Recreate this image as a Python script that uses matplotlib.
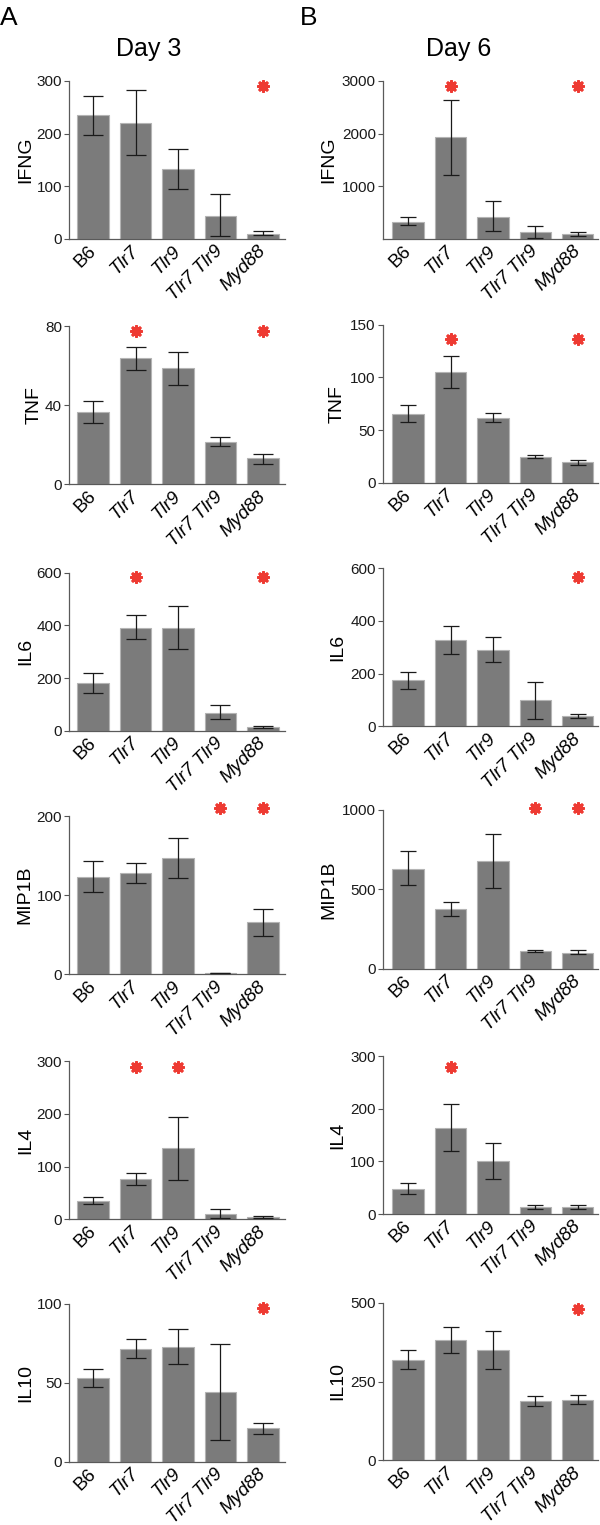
import matplotlib
matplotlib.use('Agg')
import matplotlib.pyplot as plt
import numpy as np

plt.rcParams['font.family'] = ['Liberation Sans', 'DejaVu Sans']

groups = ['B6', 'Tlr7', 'Tlr9', 'Tlr7 Tlr9', 'Myd88']
cytokines = ['IFNG', 'TNF', 'IL6', 'MIP1B', 'IL4', 'IL10']

# day 3 (panel A): bar height, lower and upper end of error bar
d3_mean = [[235, 220, 132, 44, 10],
           [36.5, 64, 58.6, 21.2, 13.1],
           [181, 391, 391, 68, 14],
           [123, 128, 146.5, 2, 66],
           [35.4, 76.6, 135, 10.8, 4.4],
           [53, 71.5, 72.8, 43.9, 21.1]]
d3_lo = [[198, 159, 94, 6, 7],
         [31, 58, 50.4, 19.2, 10.4],
         [143, 349, 310, 43, 11],
         [104, 115, 122, 2, 48],
         [28.5, 66, 75, 3, 3],
         [47.5, 65.4, 62, 13.5, 17.3]]
d3_hi = [[272, 282, 171, 85, 15],
         [42, 69.6, 67, 23.7, 15.5],
         [220, 438, 475, 96, 19],
         [143, 140, 172, 2, 83],
         [43, 88.6, 195, 19, 7],
         [58.4, 77.6, 83.8, 74.3, 24.7]]
d3_ticks = [[0, 100, 200, 300], [0, 40, 80], [0, 200, 400, 600],
            [0, 100, 200], [0, 100, 200, 300], [0, 50, 100]]
d3_star_groups = [[4], [1, 4], [1, 4], [3, 4], [1, 2], [4]]
d3_star_y = [290, 77.3, 582, 210, 290, 97]

# day 6 (panel B)
d6_mean = [[329, 1930, 424, 133, 89],
           [65.5, 105, 61.7, 24.7, 19.3],
           [175, 327, 291, 99, 39],
           [628, 374, 676, 109, 101],
           [48, 163, 100, 14, 13.3],
           [318, 381, 349, 188, 191]]
d6_lo = [[259, 1222, 152, 13, 57],
         [57.6, 90, 57.3, 23.4, 17],
         [143, 275, 246, 28, 33],
         [525, 330, 508, 103, 90],
         [38, 119, 66, 10, 10],
         [289, 339, 289, 173, 178]]
d6_hi = [[418, 2633, 728, 253, 133],
         [74, 120, 66, 26, 21.8],
         [208, 381, 339, 170, 46],
         [739, 418, 849, 120, 116],
         [59, 209, 135, 18, 17],
         [349, 422, 410, 203, 206]]
d6_ticks = [[1000, 2000, 3000], [0, 50, 100, 150], [0, 200, 400, 600],
            [0, 500, 1000], [0, 100, 200, 300], [0, 250, 500]]
d6_star_groups = [[1, 4], [1, 4], [4], [3, 4], [1], [4]]
d6_star_y = [2905, 136, 566, 1010, 280, 481]

W, H = 600, 1525
fig = plt.figure(figsize=(W / 100, H / 100), dpi=100)

# panel geometry in pixels (top, zero line) per row
d3_top = [81, 326, 572.7, 816, 1061.3, 1303.7]
d3_zero = [239, 484.3, 730.7, 974.3, 1219.3, 1461.7]
d6_top = [81, 324.7, 568.3, 810, 1056, 1302.7]
d6_zero = [239, 482.7, 726.3, 968.7, 1214, 1460.3]

bar_col = '#7b7b7b'
star_col = '#ee3a32'


def panel(x0, x1, top, zero, xlim, mean, lo, hi, ticks, ymax, star_g, star_y, cap):
    ax = fig.add_axes([x0 / W, 1 - zero / H, (x1 - x0) / W, (zero - top) / H])
    x = np.arange(len(groups))
    m = np.array(mean)
    err = [m - np.array(lo), np.array(hi) - m]
    ax.bar(x, m, width=0.74, color=bar_col, edgecolor='#b4b4b4', linewidth=0.8, zorder=2)
    ax.errorbar(x, m, yerr=err, fmt='none', ecolor='#1a1a1a', elinewidth=0.9,
                capsize=cap, capthick=0.9, zorder=3)
    ax.scatter([x[i] for i in star_g], [star_y] * len(star_g), marker=(8, 2, 0),
               s=50, linewidths=2.2, color=star_col, clip_on=False, zorder=4)
    ax.set_xlim(*xlim)
    ax.set_ylim(0, ymax)
    ax.set_yticks(ticks)
    ax.set_xticks(x)
    ax.set_xticklabels(groups, rotation=45, ha='right', va='center',
                       rotation_mode='anchor', fontsize=13.5)
    for lab in ax.get_xticklabels()[1:]:
        lab.set_fontstyle('italic')
    ax.tick_params(axis='x', length=0, pad=7)
    ax.tick_params(axis='y', length=3.5, width=0.8, color='#555555',
                   labelsize=11, pad=1.5, labelcolor='#1a1a1a')
    for s in ['top', 'right']:
        ax.spines[s].set_visible(False)
    for s in ['left', 'bottom']:
        ax.spines[s].set_color('#5a5a5a')
        ax.spines[s].set_linewidth(0.9)
    return ax


for r, name in enumerate(cytokines):
    ax = panel(69, 285, d3_top[r], d3_zero[r], (-0.57, 4.52),
               d3_mean[r], d3_lo[r], d3_hi[r], d3_ticks[r], d3_ticks[r][-1],
               d3_star_groups[r], d3_star_y[r], 7)
    ax.set_ylabel(name, fontsize=14, labelpad=2)
    ax = panel(382.7, 598, d6_top[r], d6_zero[r], (-0.6, 4.48),
               d6_mean[r], d6_lo[r], d6_hi[r], d6_ticks[r], d6_ticks[r][-1],
               d6_star_groups[r], d6_star_y[r], 6)
    ax.set_ylabel(name, fontsize=14, labelpad=3)

fig.text(149 / W, 1 - 49 / H, 'Day 3', fontsize=18, ha='center', va='center')
fig.text(459 / W, 1 - 49 / H, 'Day 6', fontsize=18, ha='center', va='center')
fig.text(0 / W, 1 - 18 / H, 'A', fontsize=19, ha='left', va='center')
fig.text(300 / W, 1 - 18 / H, 'B', fontsize=19, ha='left', va='center')

fig.savefig('out.png', dpi=100, facecolor='white')
